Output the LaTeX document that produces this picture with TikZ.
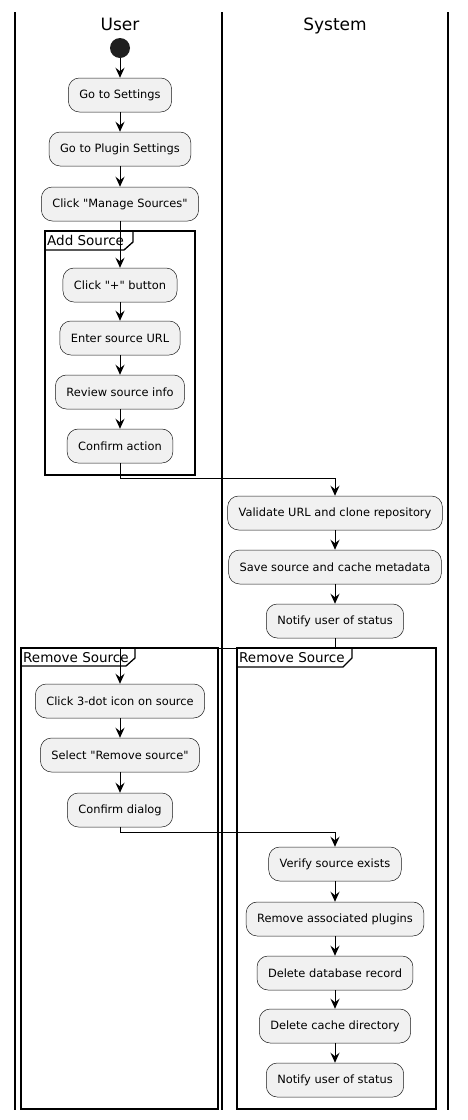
\documentclass[tikz,border=0pt]{standalone}
\usepackage{fontspec}
\setmainfont{DejaVu Sans}
\usetikzlibrary{arrows.meta}
\definecolor{actfill}{HTML}{F1F1F1}
\definecolor{actdraw}{HTML}{181818}
\tikzset{
  act/.style={draw=actdraw, fill=actfill, line width=0.5pt, rounded corners=11pt,
    minimum height=34pt, inner xsep=11pt, font=\fontsize{11.4}{13}\selectfont},
  arr/.style={line width=0.9pt, -{Stealth[length=10pt,width=9pt,inset=3.5pt]}},
  lane/.style={line width=1.3pt},
  grp/.style={line width=1.3pt},
  lanetitle/.style={font=\fontsize{17}{20}\selectfont, anchor=base, inner sep=0pt},
  grptitle/.style={font=\fontsize{13.5}{16}\selectfont, anchor=base west, inner sep=0pt}
}
\begin{document}
\begin{tikzpicture}[x=1pt, y=-1pt]
\useasboundingbox (0,0) rectangle (467,1120);
        % lanes
        \draw[lane](15, 12) to (15, 1110);
        \draw[lane](222, 12) to (222, 1110);
        \draw[lane](448, 12) to (448, 1110);
        \node[lanetitle] (tuser) at(120, 30){User};
        \node[lanetitle] (tsys) at(335, 30){System};
        % groups
        \draw[grp](45, 231) rectangle (195, 475);
            \draw[grp](45, 250) -- (124, 250) -- (133, 242) -- (133, 231);
            \node[grptitle] (gadd) at(47, 245){Add Source};
        \draw[grp](21, 648) rectangle (218, 1109);
            \draw[grp](21, 666) -- (126, 666) -- (135, 658) -- (135, 648);
            \node[grptitle] (grem) at(23, 662){Remove Source};
        \draw[grp](237, 648) rectangle (436, 1109);
            \draw[grp](237, 667) -- (343, 667) -- (352, 658) -- (352, 648);
            \node[grptitle] (grems) at(239, 662){Remove Source};
        % user side
        \node[circle, fill=black!88, minimum size=20pt, inner sep=0pt] (start) at(120, 48){};
        \node[act] (u1) at(120, 95){Go to Settings};
        \node[act] (u2) at(120, 149){Go to Plugin Settings};
        \node[act] (u3) at(120, 204){Click \textquotedbl Manage Sources\textquotedbl};
        \node[act] (u4) at(120, 285){Click \textquotedbl+\textquotedbl\ button};
        \node[act] (u5) at(120, 338){Enter source URL};
        \node[act] (u6) at(120, 392){Review source info};
        \node[act] (u7) at(120, 446){Confirm action};
        % system side
        \node[act] (s1) at(335, 513){Validate URL and clone repository};
        \node[act] (s2) at(335, 567){Save source and cache metadata};
        \node[act] (s3) at(335, 621){Notify user of status};
        % removal
        \node[act] (r1) at(120, 701){Click 3-dot icon on source};
        \node[act] (r2) at(120, 755){Select \textquotedbl Remove source\textquotedbl};
        \node[act] (r3) at(120, 810){Confirm dialog};
        \node[act] (v1) at(335, 864){Verify source exists};
        \node[act] (v2) at(335, 919){Remove associated plugins};
        \node[act] (v3) at(335, 973){Delete database record};
        \node[act] (v4) at(335, 1026){Delete cache directory};
        \node[act] (v5) at(335, 1080){Notify user of status};
        % flow
        \draw[arr](start) -- (u1);
        \draw[arr](u1) -- (u2);
        \draw[arr](u2) -- (u3);
        \draw[arr](u3) -- (u4);
        \draw[arr](u4) -- (u5);
        \draw[arr](u5) -- (u6);
        \draw[arr](u6) -- (u7);
        \draw[arr](u7.south) -- ++(0, 15) -| (s1.north);
        \draw[arr](s1) -- (s2);
        \draw[arr](s2) -- (s3);
        \draw[arr](s3.south) -- ++(0, 10) -| (r1.north);
        \draw[arr](r1) -- (r2);
        \draw[arr](r2) -- (r3);
        \draw[arr](r3.south) -- ++(0, 5) -| (v1.north);
        \draw[arr](v1) -- (v2);
        \draw[arr](v2) -- (v3);
        \draw[arr](v3) -- (v4);
        \draw[arr](v4) -- (v5);
\end{tikzpicture}
\end{document}
